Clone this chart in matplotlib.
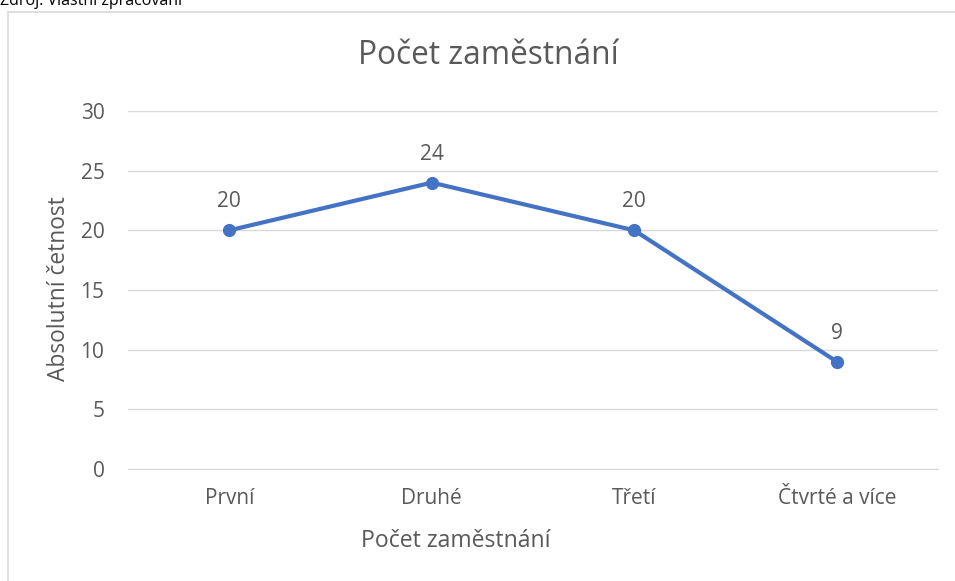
import matplotlib
matplotlib.use("Agg")
import matplotlib.pyplot as plt
from matplotlib.patches import Rectangle

categories = ["První", "Druhé", "Třetí", "Čtvrté a více"]
values = [20, 24, 20, 9]
yticks = [0, 5, 10, 15, 20, 25, 30]

plt.rcParams['font.family'] = ['Open Sans', 'DejaVu Sans']
grey = "#595959"
W, H = 955, 581
fig = plt.figure(figsize=(W/100, H/100), dpi=100)

# chart border
fig.patches.append(Rectangle((8/W, -0.1), 1.2, 1 - 12/H + 0.1, transform=fig.transFigure,
                             fill=False, edgecolor="#d9d9d9", linewidth=1.2))
fig.text(0/W, 1 - 5/H, "Zdroj: Vlastní zpracování", fontsize=11.5, color="black",
         ha="left", va="baseline")

ax = fig.add_axes([128/W, 1 - 469/H, (938 - 128)/W, (469 - 111)/H])
x = list(range(len(categories)))
ax.plot(x, values, color="#4472C4", linewidth=3, marker="o", markersize=8.5, zorder=3)
for xi, v in zip(x, values):
    ax.annotate(str(v), (xi, v), xytext=(0, 13), textcoords="offset points",
                ha="center", va="bottom", fontsize=15, color=grey)
ax.set_xlim(-0.5, len(categories) - 0.5)
ax.set_ylim(0, 30)
ax.set_yticks(yticks)
ax.set_xticks(x)
ax.set_xticklabels(categories)
ax.grid(axis="y", color="#d9d9d9", linewidth=1)
ax.set_axisbelow(True)
for s in ["top", "right", "left"]:
    ax.spines[s].set_visible(False)
ax.spines["bottom"].set_color("#d9d9d9")
ax.tick_params(axis="both", length=0, labelsize=15, colors=grey)
ax.tick_params(axis="x", pad=14)
ax.tick_params(axis="y", pad=17)
fig.text(456/W, 1 - 541/H, "Počet zaměstnání", fontsize=16.6, color=grey,
         ha="center", va="center")
fig.text(59/W, 1 - 289/H, "Absolutní četnost", fontsize=16.4, color=grey,
         ha="center", va="center", rotation=90)
fig.text(488/W, 1 - 55/H, "Počet zaměstnání", fontsize=22.8, color=grey,
         ha="center", va="center")

fig.savefig("out.png", dpi=100)
